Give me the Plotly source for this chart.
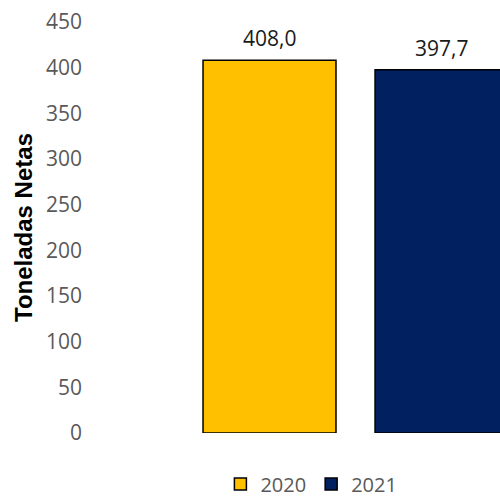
import plotly.graph_objects as go

years = ["2020", "2021"]
values = [408.0, 397.7]
colors = ["#FFC000", "#002060"]
y_ticks = [0, 50, 100, 150, 200, 250, 300, 350, 400, 450]

fig = go.Figure()
for i, (yr, v, c) in enumerate(zip(years, values, colors)):
    fig.add_trace(go.Bar(
        x=[yr], y=[v], name=yr,
        marker=dict(color=c, line=dict(color="black", width=1.5)),
        width=0.773,
        cliponaxis=False,
    ))
    fig.add_annotation(
        x=i, y=v, xref="x", yref="y", text=f"{v:.1f}".replace(".", ","),
        showarrow=False, yanchor="bottom", yshift=6,
        font=dict(family="Open Sans", size=21, color="#1a1a1a"),
    )

fig.update_layout(
    width=500, height=497,
    margin=dict(l=90, r=0, t=22, b=64, autoexpand=False),
    paper_bgcolor="white", plot_bgcolor="white",
    barmode="overlay",
    showlegend=True,
    legend=dict(orientation="h", x=0.54, xanchor="center", y=-0.124, yanchor="middle",
                font=dict(family="Open Sans", size=20, color="#595959"),
                itemwidth=30, tracegroupgap=0),
    xaxis=dict(type="category", range=[-1.0436, 1.34], showticklabels=False,
               showline=False, showgrid=False, zeroline=False, ticks=""),
    yaxis=dict(range=[0, 450], tickvals=y_ticks, showgrid=False, zeroline=False,
               showline=False, ticks="", automargin=False, ticklabelstandoff=7,
               ticklabeloverflow="allow",
               tickfont=dict(family="Open Sans", size=21, color="#595959"),
               title=dict(text="Toneladas Netas",
                          font=dict(family="Liberation Sans", size=24, color="black", weight="bold"),
                          standoff=6)),
)
fig.write_html("out.html",
               config={"displayModeBar": False},
               post_script="document.body.style.margin='0';document.body.style.overflow='hidden';")
